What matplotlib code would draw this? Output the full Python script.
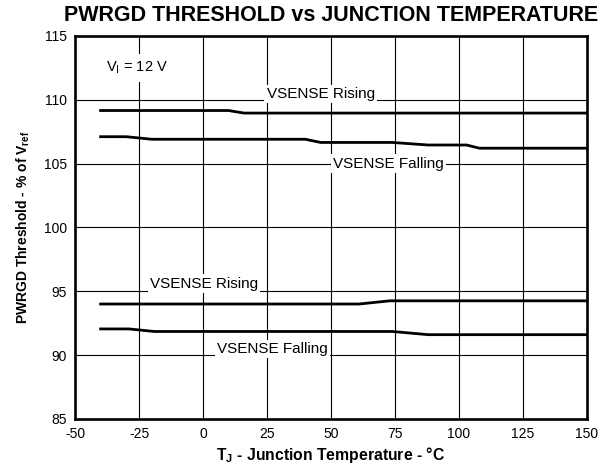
import matplotlib.pyplot as plt

plt.rcParams['font.family'] = ['Liberation Sans', 'DejaVu Sans']
plt.rcParams['axes.unicode_minus'] = False

# Data
t_rise_hi = [-40, 10, 16, 150]
v_rise_hi = [109.15, 109.15, 108.95, 108.95]
t_fall_hi = [-40, -30, -20, 40, 46, 74, 88, 103, 108, 150]
v_fall_hi = [107.1, 107.1, 106.9, 106.9, 106.65, 106.65, 106.45, 106.45, 106.2, 106.2]
t_rise_lo = [-40, 61, 73, 150]
v_rise_lo = [94.0, 94.0, 94.25, 94.25]
t_fall_lo = [-40, -29, -19, 74, 88, 150]
v_fall_lo = [92.05, 92.05, 91.85, 91.85, 91.6, 91.6]

x_ticks = [-50, -25, 0, 25, 50, 75, 100, 125, 150]
y_ticks = [85, 90, 95, 100, 105, 110, 115]

fig = plt.figure(figsize=(6.1, 4.65), dpi=100)
ax = fig.add_axes([0.123, 0.099, 0.839, 0.824])

for t, v in [(t_rise_hi, v_rise_hi), (t_fall_hi, v_fall_hi),
             (t_rise_lo, v_rise_lo), (t_fall_lo, v_fall_lo)]:
    ax.plot(t, v, color='k', lw=2.0, zorder=3)

ax.set_xlim(-50, 150)
ax.set_ylim(85, 115)
ax.set_xticks(x_ticks)
ax.set_yticks(y_ticks)
ax.tick_params(length=0, labelsize=10, pad=6)
ax.grid(True, color='k', lw=0.8, zorder=0)
ax.set_axisbelow(True)
for s in ax.spines.values():
    s.set_linewidth(1.9)

box = dict(facecolor='white', edgecolor='none', pad=1.5)
ax.text(46, 110.45, 'VSENSE Rising', fontsize=11, ha='center', va='center', bbox=box, zorder=2)
ax.text(72.5, 105, 'VSENSE Falling', fontsize=11, ha='center', va='center', bbox=box, zorder=2)
ax.text(0.5, 95.6, 'VSENSE Rising', fontsize=11, ha='center', va='center', bbox=box, zorder=2)
ax.text(27, 90.5, 'VSENSE Falling', fontsize=11, ha='center', va='center', bbox=box, zorder=2)
ax.text(-38, 112.5, r'V$_\mathregular{I}$ = 12 V', fontsize=10.5, ha='left', va='center',
        bbox=dict(facecolor='white', edgecolor='none', pad=4), zorder=2)

ax.set_xlabel(r'T$_\mathregular{J}$ - Junction Temperature - °C', fontsize=11.3, fontweight='bold', labelpad=3)
ax.set_ylabel(r'PWRGD Threshold - % of V$_\mathregular{ref}$', fontsize=10, fontweight='bold', labelpad=8)
fig.text(0.543, 0.966, 'PWRGD THRESHOLD vs JUNCTION TEMPERATURE', fontsize=15.5,
         fontweight='bold', ha='center', va='center')

fig.savefig('out.png', dpi=100)
